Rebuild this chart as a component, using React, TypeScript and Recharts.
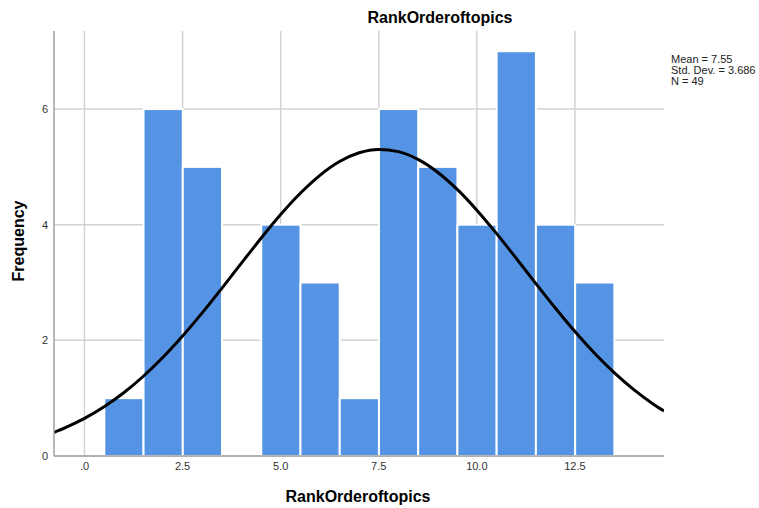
import React from "react";
import {
  ComposedChart,
  Bar,
  Line,
  XAxis,
  YAxis,
  CartesianGrid,
} from "recharts";

// Histogram bins (centers) and counts
const binCenters = [1, 2, 3, 4, 5, 6, 7, 8, 9, 10, 11, 12, 13];
const frequencies = [1, 6, 5, 0, 4, 3, 1, 6, 5, 4, 7, 4, 3];

// Normal curve
const curveX = [
  -0.777, -0.5, 0, 0.5, 1, 1.5, 2, 2.5, 3, 3.5, 4, 4.5, 5, 5.5, 6, 6.5, 7, 7.5,
  8, 8.5, 9, 9.5, 10, 10.5, 11, 11.5, 12, 12.5, 13, 13.5, 14, 14.5, 14.77,
];
const curveY = [
  0.41, 0.488, 0.651, 0.852, 1.093, 1.379, 1.707, 2.075, 2.475, 2.9, 3.335,
  3.766, 4.175, 4.543, 4.854, 5.092, 5.244, 5.302, 5.264, 5.13, 4.908, 4.61,
  4.252, 3.85, 3.422, 2.986, 2.559, 2.152, 1.777, 1.441, 1.147, 0.896, 0.779,
];

const xTicks = [0, 2.5, 5, 7.5, 10, 12.5];
const yTicks = [0, 2, 4, 6];
const xDomain: [number, number] = [-0.777, 14.77];
const yDomain: [number, number] = [0, 7.35];

const title = "RankOrderoftopics";
const xLabel = "RankOrderoftopics";
const yLabel = "Frequency";
const statsLines = ["Mean = 7.55", "Std. Dev. = 3.686", "N = 49"];

const W = 759;
const H = 508;
const PLOT_LEFT = 54;
const PLOT_RIGHT = 664;
const PLOT_TOP = 31;
const PLOT_BOTTOM = 456;

const FONT = "Arial, 'Liberation Sans', sans-serif";

const barData = binCenters.map((x, i) => ({ x, freq: frequencies[i] }));
const curveData = curveX.map((x, i) => ({ x, y: curveY[i] }));

// width of one bin (1 unit on the x scale) in pixels
const unitPx = (PLOT_RIGHT - PLOT_LEFT) / (xDomain[1] - xDomain[0]);

const fmtX = (v: number) => (v === 0 ? ".0" : v.toFixed(1));

const HistBar = (props: any) => {
  const { x, y, width, height } = props;
  if (!height || height <= 0) return null;
  const cx = x + width / 2;
  return (
    <rect
      x={cx - unitPx / 2}
      y={y}
      width={unitPx}
      height={height}
      fill="#5594e4"
      stroke="#ffffff"
      strokeWidth={2}
    />
  );
};

export default function App() {
  return (
    <div
      style={{
        position: "absolute",
        left: 0,
        top: 0,
        width: W,
        height: H,
        background: "#fff",
        fontFamily: FONT,
      }}
    >
      <ComposedChart
        width={W}
        height={H}
        data={barData}
        margin={{ top: PLOT_TOP, right: W - PLOT_RIGHT, left: 0, bottom: 22 }}
        barCategoryGap={0}
        barGap={0}
      >
        <CartesianGrid stroke="#d2d2d2" strokeWidth={1.5} syncWithTicks />
        <XAxis
          dataKey="x"
          type="number"
          domain={xDomain}
          allowDataOverflow
          ticks={xTicks}
          tickFormatter={fmtX}
          height={H - 22 - PLOT_BOTTOM}
          axisLine={{ stroke: "#a0a0a0", strokeWidth: 1.5 }}
          tickLine={false}
          tickSize={4}
          tickMargin={2}
          tick={{ fontSize: 11, fill: "#333", fontFamily: FONT }}
        />
        <YAxis
          type="number"
          domain={yDomain}
          allowDataOverflow
          ticks={yTicks}
          width={PLOT_LEFT}
          axisLine={{ stroke: "#a0a0a0", strokeWidth: 1.5 }}
          tickLine={false}
          tickSize={4}
          tickMargin={2}
          tick={{ fontSize: 11, fill: "#333", fontFamily: FONT }}
        />
        <Bar
          dataKey="freq"
          fill="#5594e4"
          shape={HistBar}
          isAnimationActive={false}
        />
        <Line
          data={curveData}
          dataKey="y"
          type="monotone"
          stroke="#000"
          strokeWidth={3}
          dot={false}
          activeDot={false}
          isAnimationActive={false}
        />
      </ComposedChart>

      <div
        style={{
          position: "absolute",
          left: 440,
          top: 9,
          transform: "translateX(-50%)",
          fontWeight: "bold",
          fontSize: 16,
          whiteSpace: "nowrap",
          color: "#000",
        }}
      >
        {title}
      </div>
      <div
        style={{
          position: "absolute",
          left: 358,
          top: 488,
          transform: "translateX(-50%)",
          fontWeight: "bold",
          fontSize: 16,
          whiteSpace: "nowrap",
          color: "#000",
        }}
      >
        {xLabel}
      </div>
      <div
        style={{
          position: "absolute",
          left: 18.5,
          top: 241,
          transform: "translate(-50%, -50%) rotate(-90deg)",
          fontWeight: "bold",
          fontSize: 16,
          whiteSpace: "nowrap",
          color: "#000",
        }}
      >
        {yLabel}
      </div>
      <div
        style={{
          position: "absolute",
          left: 671,
          top: 54,
          fontSize: 11,
          lineHeight: "11px",
          color: "#222",
          whiteSpace: "nowrap",
        }}
      >
        {statsLines.map((s) => (
          <div key={s}>{s}</div>
        ))}
      </div>
    </div>
  );
}
